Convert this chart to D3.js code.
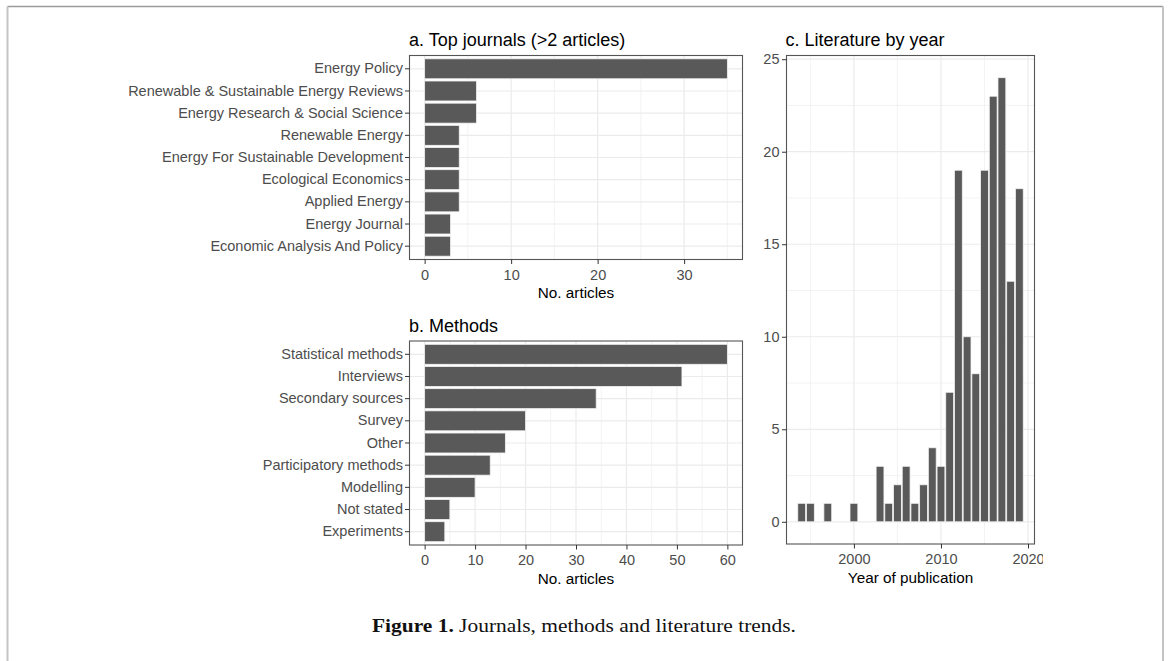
<!DOCTYPE html>
<html>
<head>
<meta charset="utf-8">
<script src="https://cdn.jsdelivr.net/npm/d3@7"></script>
<style>
  html, body { margin: 0; padding: 0; background: #fff; }
  svg { display: block; }
</style>
</head>
<body>
<svg id="chart" width="1168" height="661"></svg>
<script>
// ---------------- data ----------------
const journals = [
  "Energy Policy",
  "Renewable & Sustainable Energy Reviews",
  "Energy Research & Social Science",
  "Renewable Energy",
  "Energy For Sustainable Development",
  "Ecological Economics",
  "Applied Energy",
  "Energy Journal",
  "Economic Analysis And Policy"
];
const journalCounts = [35, 6, 6, 4, 4, 4, 4, 3, 3];
const journalTicks = [0, 10, 20, 30];
const journalMinor = [5, 15, 25, 35];

const methods = [
  "Statistical methods",
  "Interviews",
  "Secondary sources",
  "Survey",
  "Other",
  "Participatory methods",
  "Modelling",
  "Not stated",
  "Experiments"
];
const methodCounts = [60, 51, 34, 20, 16, 13, 10, 5, 4];
const methodTicks = [0, 10, 20, 30, 40, 50, 60];
const methodMinor = [5, 15, 25, 35, 45, 55];

const years = [1994, 1995, 1997, 2000, 2003, 2004, 2005, 2006, 2007, 2008, 2009,
               2010, 2011, 2012, 2013, 2014, 2015, 2016, 2017, 2018, 2019];
const yearCounts = [1, 1, 1, 1, 3, 1, 2, 3, 1, 2, 4,
                    3, 7, 19, 10, 8, 19, 23, 24, 13, 18];
const yearTicks = [2000, 2010, 2020];
const yearMinor = [1995, 2005, 2015];
const countTicks = [0, 5, 10, 15, 20, 25];
const countMinor = [2.5, 7.5, 12.5, 17.5, 22.5];

const titles = ["a. Top journals (>2 articles)", "b. Methods", "c. Literature by year"];
const xTitles = ["No. articles", "No. articles", "Year of publication"];
const captionBold = "Figure 1.";
const captionText = " Journals, methods and literature trends.";

// ---------------- styling ----------------
const FONT = "'Liberation Sans', Arial, sans-serif";
const BAR = "#595959";
const GRID = "#ebebeb";
const BORDER = "#555555";
const TICKTXT = "#4d4d4d";
const TICK_FS = 14.5;
const TITLE_FS = 18;
const AXTITLE_FS = 15.3;

const svg = d3.select("#chart");

// page frame
svg.append("line").attr("x1", 7.5).attr("x2", 1163).attr("y1", 6.5).attr("y2", 6.5)
   .attr("stroke", "#9a9a9a").attr("stroke-width", 1.5);
svg.append("line").attr("x1", 7.5).attr("x2", 7.5).attr("y1", 6.5).attr("y2", 661)
   .attr("stroke", "#c4c4c4").attr("stroke-width", 2);
svg.append("line").attr("x1", 1163).attr("x2", 1163).attr("y1", 6.5).attr("y2", 661)
   .attr("stroke", "#c4c4c4").attr("stroke-width", 2);

// clip for the cropped figure image (right edge)
svg.append("defs").append("clipPath").attr("id", "figclip")
   .append("rect").attr("x", 0).attr("y", 0).attr("width", 1043).attr("height", 600);
const fig = svg.append("g").attr("clip-path", "url(#figclip)");

function styleAxis(g) {
  g.select(".domain").remove();
  g.selectAll(".tick line").attr("stroke", "#333").attr("stroke-width", 1);
  g.selectAll(".tick text").attr("fill", TICKTXT).attr("font-family", FONT)
    .attr("font-size", TICK_FS);
}

function horizBarPanel(box, cats, vals, ticks, minor, maxDomain, title, xTitle) {
  const x = d3.scaleLinear().domain([-maxDomain * 0.05, maxDomain * 1.05])
    .range([box.left, box.right]);
  const y = d3.scaleBand().domain(cats).range([box.top, box.bottom])
    .paddingInner(0.1).paddingOuter(0.15);
  const g = fig.append("g");
  g.selectAll(".mg").data(minor).enter().append("line")
    .attr("x1", d => x(d)).attr("x2", d => x(d))
    .attr("y1", box.top).attr("y2", box.bottom)
    .attr("stroke", GRID).attr("stroke-width", 0.6);
  g.selectAll(".Mg").data(ticks).enter().append("line")
    .attr("x1", d => x(d)).attr("x2", d => x(d))
    .attr("y1", box.top).attr("y2", box.bottom)
    .attr("stroke", GRID).attr("stroke-width", 1.2);
  g.selectAll(".My").data(cats).enter().append("line")
    .attr("y1", d => y(d) + y.bandwidth() / 2).attr("y2", d => y(d) + y.bandwidth() / 2)
    .attr("x1", box.left).attr("x2", box.right)
    .attr("stroke", GRID).attr("stroke-width", 1.2);
  g.selectAll(".bar").data(cats).enter().append("rect")
    .attr("x", x(0))
    .attr("y", d => y(d))
    .attr("width", (d, i) => x(vals[i]) - x(0))
    .attr("height", y.bandwidth())
    .attr("fill", BAR).attr("stroke", "#f2f2f2").attr("stroke-width", 0.8);
  g.append("rect").attr("x", box.left).attr("y", box.top)
    .attr("width", box.right - box.left).attr("height", box.bottom - box.top)
    .attr("fill", "none").attr("stroke", BORDER).attr("stroke-width", 1.1);
  g.append("g").attr("transform", `translate(0,${box.bottom})`)
    .call(d3.axisBottom(x).tickValues(ticks).tickFormat(d3.format("d"))
      .tickSizeInner(4.5).tickSizeOuter(0).tickPadding(5.5))
    .call(styleAxis);
  g.append("g").attr("transform", `translate(${box.left},0)`)
    .call(d3.axisLeft(y).tickSizeInner(4.5).tickSizeOuter(0).tickPadding(2))
    .call(styleAxis);
  g.append("text").attr("x", box.left - 0.5).attr("y", box.top - 9.5)
    .attr("font-family", FONT).attr("font-size", TITLE_FS).attr("fill", "#000")
    .text(title);
  g.append("text").attr("x", (box.left + box.right) / 2).attr("y", box.bottom + 38.5)
    .attr("text-anchor", "middle")
    .attr("font-family", FONT).attr("font-size", AXTITLE_FS).attr("fill", "#000")
    .text(xTitle);
}

horizBarPanel({ left: 409.5, right: 742.5, top: 55.5, bottom: 259.5 },
  journals, journalCounts, journalTicks, journalMinor, d3.max(journalCounts),
  titles[0], xTitles[0]);
horizBarPanel({ left: 409.5, right: 742.5, top: 341, bottom: 545 },
  methods, methodCounts, methodTicks, methodMinor, d3.max(methodCounts),
  titles[1], xTitles[1]);

// ---------------- panel c ----------------
(function () {
  const box = { left: 786.5, right: 1034.5, top: 55.5, bottom: 544 };
  const bw = 0.9;
  const lo = d3.min(years) - bw / 2, hi = d3.max(years) + bw / 2;
  const padX = (hi - lo) * 0.05;
  const x = d3.scaleLinear().domain([lo - padX, hi + padX]).range([box.left, box.right]);
  const ymax = d3.max(yearCounts);
  const y = d3.scaleLinear().domain([-ymax * 0.05, ymax * 1.05]).range([box.bottom, box.top]);
  const g = fig.append("g");
  g.selectAll(".mgx").data(yearMinor).enter().append("line")
    .attr("x1", d => x(d)).attr("x2", d => x(d)).attr("y1", box.top).attr("y2", box.bottom)
    .attr("stroke", GRID).attr("stroke-width", 0.6);
  g.selectAll(".mgy").data(countMinor).enter().append("line")
    .attr("y1", d => y(d)).attr("y2", d => y(d)).attr("x1", box.left).attr("x2", box.right)
    .attr("stroke", GRID).attr("stroke-width", 0.6);
  g.selectAll(".Mgx").data(yearTicks).enter().append("line")
    .attr("x1", d => x(d)).attr("x2", d => x(d)).attr("y1", box.top).attr("y2", box.bottom)
    .attr("stroke", GRID).attr("stroke-width", 1.2);
  g.selectAll(".Mgy").data(countTicks).enter().append("line")
    .attr("y1", d => y(d)).attr("y2", d => y(d)).attr("x1", box.left).attr("x2", box.right)
    .attr("stroke", GRID).attr("stroke-width", 1.2);
  g.selectAll(".bar").data(years).enter().append("rect")
    .attr("x", d => x(d - bw / 2))
    .attr("width", x(bw) - x(0))
    .attr("y", (d, i) => y(yearCounts[i]))
    .attr("height", (d, i) => y(0) - y(yearCounts[i]))
    .attr("fill", BAR).attr("stroke", "#f2f2f2").attr("stroke-width", 0.8);
  g.append("rect").attr("x", box.left).attr("y", box.top)
    .attr("width", box.right - box.left).attr("height", box.bottom - box.top)
    .attr("fill", "none").attr("stroke", BORDER).attr("stroke-width", 1.1);
  g.append("g").attr("transform", `translate(0,${box.bottom})`)
    .call(d3.axisBottom(x).tickValues(yearTicks).tickFormat(d3.format("d"))
      .tickSizeInner(4.5).tickSizeOuter(0).tickPadding(5.5))
    .call(styleAxis);
  g.append("g").attr("transform", `translate(${box.left},0)`)
    .call(d3.axisLeft(y).tickValues(countTicks).tickFormat(d3.format("d"))
      .tickSizeInner(4.5).tickSizeOuter(0).tickPadding(2.5))
    .call(styleAxis);
  g.append("text").attr("x", box.left - 1).attr("y", box.top - 9.5)
    .attr("font-family", FONT).attr("font-size", TITLE_FS).attr("fill", "#000")
    .text(titles[2]);
  g.append("text").attr("x", (box.left + box.right) / 2).attr("y", box.bottom + 39)
    .attr("text-anchor", "middle")
    .attr("font-family", FONT).attr("font-size", AXTITLE_FS).attr("fill", "#000")
    .text(xTitles[2]);
})();

// ---------------- caption ----------------
const cap = svg.append("text").attr("x", 372).attr("y", 632)
  .attr("font-family", "'Liberation Serif', 'Times New Roman', serif")
  .attr("font-size", 19).attr("fill", "#111")
  .attr("textLength", 424).attr("lengthAdjust", "spacingAndGlyphs");
cap.append("tspan").attr("font-weight", "bold").text(captionBold);
cap.append("tspan").text(captionText);
</script>
</body>
</html>
